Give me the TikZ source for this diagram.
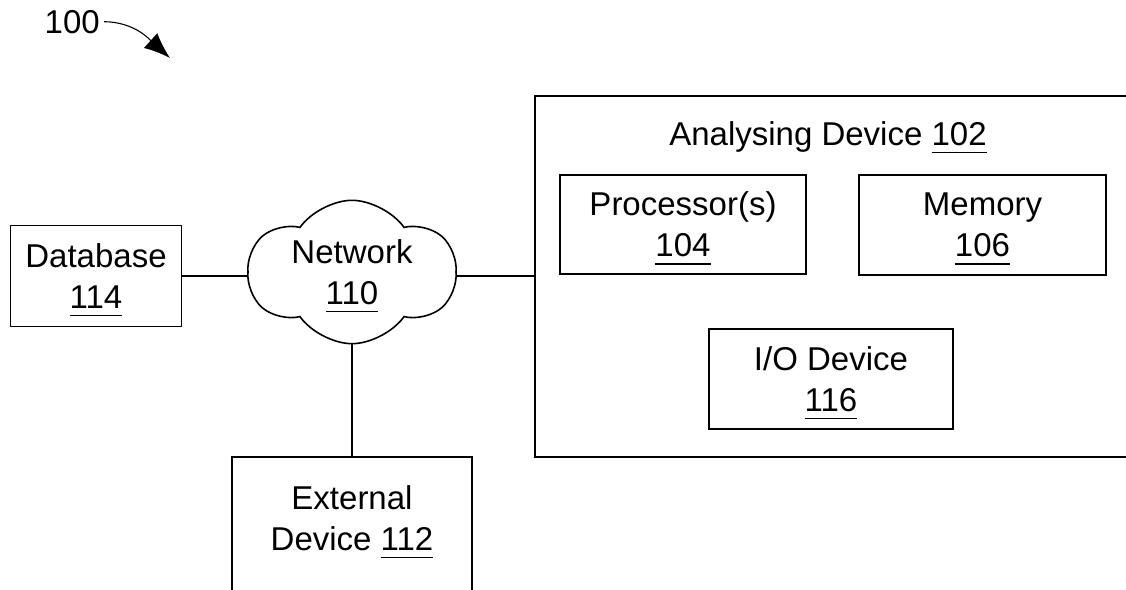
\documentclass[tikz,border=0pt]{standalone}
\usepackage{fontspec}
\setmainfont{Liberation Sans}
\usepackage{tikz}
\usetikzlibrary{positioning, shapes, shapes.symbols, calc, arrows.meta}

\newcommand{\ulnum}[1]{\setbox0\hbox{#1}\rlap{\smash{\rule[-8pt]{\wd0}{1.5pt}}}\box0}

\begin{document}
\begin{tikzpicture}[x=1pt, y=-1pt,
  every node/.style={font=\fontsize{33}{41}\selectfont, align=center, inner sep=0pt},
  blk/.style={draw, line width=1.6pt},
  wire/.style={line width=1.6pt}]

\useasboundingbox (0,0) rectangle (1126,589);
\clip (0,0) rectangle (1126,589);

%//figure number and its arrow
\node[anchor=base east] (fig) at (100,33) {100};
\coordinate (figtip) at (170,58);
\draw[line width=1.1pt, -{Latex[length=26pt,width=20pt]}, shorten <=4pt] (fig.east) .. controls (135,22) and (150,40) .. (figtip);

%//left side
\node[blk, minimum width=171pt, minimum height=101pt] (db) at (96,276) {Database\\\ulnum{114}};
\node[cloud, draw, line width=1.6pt, cloud puffs=6, cloud puff arc=110, aspect=1.5, minimum width=207pt, minimum height=136pt] (net) at (352,272) {Network\\\ulnum{110}};
\node[blk, minimum width=240pt, minimum height=200pt, anchor=north] (ext) at (352,456) {};
\node (extlabel) at (352,518) {External\\Device \ulnum{112}};

%//analysing device
\node[blk, minimum width=666pt, minimum height=361pt, anchor=north west] (ad) at (534,95) {};
\node[anchor=base] (adlabel) at (828,145) {Analysing Device \ulnum{102}};
\node[blk, minimum width=246pt, minimum height=99pt] (proc) at (683,224.5) {Processor(s)\\\ulnum{104}};
\node[blk, minimum width=247pt, minimum height=100pt] (mem) at (982.5,225) {Memory\\\ulnum{106}};
\node[blk, minimum width=244pt, minimum height=100pt] (io) at (831,379) {I/O Device\\\ulnum{116}};

%//connections
\draw[wire] (db.east) -- (db.east -| net.west);
\draw[wire] (net.east |- db.east) -- (db.east -| ad.west);
\draw[wire] (net.south) -- (ext.north);

\end{tikzpicture}
\end{document}
